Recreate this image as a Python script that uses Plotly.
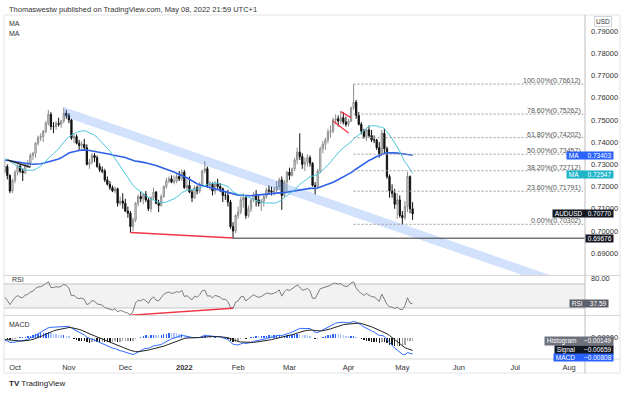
import numpy as np
import pandas as pd
import plotly.graph_objects as go

# ---------------- DATA ----------------
# warm-up closes (19 Jul 2021 - 24 Sep 2021), used only for indicator history
warm_start, warm_end = "2021-07-19", "2021-09-24"
warm_close = [0.7347, 0.7341, 0.7350, 0.7376, 0.7358, 0.7367, 0.7354, 0.7392, 0.7377, 0.7340,
              0.7360, 0.7398, 0.7380, 0.7385, 0.7340, 0.7337, 0.7345, 0.7356, 0.7340, 0.7338,
              0.7330, 0.7266, 0.7225, 0.7163, 0.7132, 0.7180, 0.7226, 0.7265, 0.7254, 0.7315,
              0.7300, 0.7314,
              0.7345, 0.7395, 0.7433, 0.7420, 0.7370, 0.7382, 0.7371, 0.7355, 0.7346, 0.7334,
              0.7316, 0.7286, 0.7263, 0.7244, 0.7220, 0.7248, 0.7297, 0.7266]

# visible daily candles (27 Sep 2021 - 6 May 2022, weekdays)
vis_start, vis_end = "2021-09-27", "2022-05-06"
opens = [0.7266, 0.7290, 0.7250, 0.7180,
         0.7228, 0.7265, 0.7292, 0.7270, 0.7262, 0.7298, 0.7306, 0.7340, 0.7350, 0.7395, 0.7420, 0.7425, 0.7448, 0.7485, 0.7525, 0.7470, 0.7470, 0.7485, 0.7480, 0.7495, 0.7530,
         0.7520, 0.7500, 0.7418, 0.7425, 0.7395, 0.7385, 0.7390, 0.7375, 0.7300, 0.7310, 0.7340, 0.7330, 0.7290, 0.7275, 0.7270, 0.7230, 0.7210, 0.7195, 0.7180, 0.7190, 0.7125, 0.7135,
         0.7125, 0.7090, 0.7080, 0.7020, 0.7050, 0.7125, 0.7155, 0.7145, 0.7165, 0.7140, 0.7100, 0.7150, 0.7175, 0.7125, 0.7115, 0.7155, 0.7200, 0.7225, 0.7235, 0.7220, 0.7225, 0.7245, 0.7235,
         0.7265, 0.7195, 0.7205, 0.7175, 0.7150, 0.7195, 0.7180, 0.7210, 0.7270, 0.7280, 0.7205, 0.7210, 0.7180, 0.7215, 0.7200, 0.7190, 0.7160, 0.7160, 0.7130, 0.7020, 0.7000,
         0.7070, 0.7085, 0.7140, 0.7150, 0.7070, 0.7100, 0.7140, 0.7165, 0.7140, 0.7125, 0.7135, 0.7155, 0.7185, 0.7180, 0.7175, 0.7185, 0.7200, 0.7230, 0.7160, 0.7220,
         0.7265, 0.7250, 0.7280, 0.7320, 0.7355, 0.7335, 0.7300, 0.7310, 0.7330, 0.7305, 0.7205, 0.7200, 0.7270, 0.7370, 0.7390, 0.7410, 0.7445, 0.7450, 0.7500, 0.7505, 0.7495, 0.7510, 0.7490,
         0.7480, 0.7495, 0.7555, 0.7580, 0.7520, 0.7480, 0.7450, 0.7425, 0.7455, 0.7430, 0.7410, 0.7410, 0.7375, 0.7345, 0.7440, 0.7370, 0.7245, 0.7180, 0.7170, 0.7120, 0.7140,
         0.7070, 0.7060, 0.7110, 0.7245, 0.7100]
highs = [0.7318, 0.7300, 0.7255, 0.7235,
         0.7275, 0.7300, 0.7300, 0.7280, 0.7305, 0.7320, 0.7350, 0.7355, 0.7400, 0.7430, 0.7440, 0.7455, 0.7495, 0.7545, 0.7535, 0.7490, 0.7495, 0.7510, 0.7500, 0.7556, 0.7545,
         0.7530, 0.7505, 0.7440, 0.7435, 0.7410, 0.7405, 0.7415, 0.7390, 0.7325, 0.7350, 0.7350, 0.7340, 0.7305, 0.7290, 0.7280, 0.7245, 0.7225, 0.7205, 0.7200, 0.7195, 0.7155, 0.7170,
         0.7145, 0.7110, 0.7090, 0.7060, 0.7130, 0.7165, 0.7180, 0.7170, 0.7180, 0.7150, 0.7155, 0.7195, 0.7180, 0.7140, 0.7165, 0.7205, 0.7240, 0.7245, 0.7250, 0.7250, 0.7260, 0.7270, 0.7277,
         0.7275, 0.7235, 0.7245, 0.7185, 0.7205, 0.7205, 0.7220, 0.7275, 0.7314, 0.7290, 0.7225, 0.7220, 0.7225, 0.7235, 0.7215, 0.7195, 0.7175, 0.7185, 0.7140, 0.7040, 0.7075,
         0.7110, 0.7155, 0.7170, 0.7160, 0.7115, 0.7145, 0.7175, 0.7185, 0.7160, 0.7145, 0.7165, 0.7195, 0.7205, 0.7200, 0.7200, 0.7225, 0.7240, 0.7245, 0.7230, 0.7270,
         0.7285, 0.7285, 0.7330, 0.7375, 0.7440, 0.7350, 0.7330, 0.7345, 0.7340, 0.7310, 0.7220, 0.7280, 0.7380, 0.7405, 0.7420, 0.7460, 0.7475, 0.7510, 0.7525, 0.7520, 0.7540, 0.7535, 0.7515,
         0.7505, 0.7560, 0.7661, 0.7590, 0.7535, 0.7490, 0.7460, 0.7465, 0.7475, 0.7455, 0.7430, 0.7415, 0.7400, 0.7455, 0.7460, 0.7380, 0.7255, 0.7210, 0.7190, 0.7170, 0.7160,
         0.7090, 0.7135, 0.7266, 0.7250, 0.7130]
lows = [0.7260, 0.7232, 0.7170, 0.7170,
        0.7215, 0.7250, 0.7260, 0.7225, 0.7255, 0.7285, 0.7290, 0.7320, 0.7330, 0.7385, 0.7405, 0.7400, 0.7440, 0.7475, 0.7455, 0.7440, 0.7455, 0.7470, 0.7465, 0.7485, 0.7505,
        0.7485, 0.7410, 0.7395, 0.7390, 0.7360, 0.7370, 0.7365, 0.7295, 0.7280, 0.7300, 0.7310, 0.7285, 0.7265, 0.7260, 0.7220, 0.7205, 0.7185, 0.7175, 0.7170, 0.7110, 0.7115, 0.7100,
        0.7085, 0.7060, 0.6993, 0.7000, 0.7040, 0.7110, 0.7130, 0.7120, 0.7130, 0.7090, 0.7085, 0.7140, 0.7120, 0.7085, 0.7110, 0.7150, 0.7190, 0.7215, 0.7215, 0.7210, 0.7215, 0.7225, 0.7225,
        0.7190, 0.7185, 0.7170, 0.7130, 0.7145, 0.7165, 0.7170, 0.7205, 0.7260, 0.7195, 0.7185, 0.7160, 0.7165, 0.7190, 0.7175, 0.7130, 0.7140, 0.7110, 0.7010, 0.6968, 0.6990,
        0.7055, 0.7075, 0.7105, 0.7055, 0.7060, 0.7085, 0.7130, 0.7110, 0.7110, 0.7090, 0.7110, 0.7145, 0.7165, 0.7160, 0.7160, 0.7170, 0.7185, 0.7095, 0.7150, 0.7180,
        0.7230, 0.7245, 0.7270, 0.7300, 0.7320, 0.7280, 0.7270, 0.7290, 0.7290, 0.7200, 0.7165, 0.7190, 0.7260, 0.7350, 0.7365, 0.7395, 0.7420, 0.7440, 0.7480, 0.7470, 0.7480, 0.7480, 0.7470,
        0.7470, 0.7490, 0.7545, 0.7505, 0.7475, 0.7435, 0.7415, 0.7405, 0.7420, 0.7400, 0.7395, 0.7365, 0.7330, 0.7340, 0.7350, 0.7235, 0.7150, 0.7150, 0.7100, 0.7055, 0.7060,
        0.7030, 0.7050, 0.7085, 0.7080, 0.7050]
closes = [0.7290, 0.7250, 0.7180, 0.7228,
          0.7265, 0.7292, 0.7270, 0.7262, 0.7298, 0.7306, 0.7340, 0.7350, 0.7395, 0.7420, 0.7425, 0.7448, 0.7485, 0.7525, 0.7470, 0.7470, 0.7485, 0.7480, 0.7495, 0.7530, 0.7520,
          0.7500, 0.7418, 0.7425, 0.7395, 0.7385, 0.7390, 0.7375, 0.7300, 0.7310, 0.7340, 0.7330, 0.7290, 0.7275, 0.7270, 0.7230, 0.7210, 0.7195, 0.7180, 0.7190, 0.7125, 0.7135, 0.7125,
          0.7090, 0.7080, 0.7020, 0.7050, 0.7125, 0.7155, 0.7145, 0.7165, 0.7140, 0.7100, 0.7150, 0.7175, 0.7125, 0.7115, 0.7155, 0.7200, 0.7225, 0.7235, 0.7220, 0.7225, 0.7245, 0.7235, 0.7265,
          0.7195, 0.7205, 0.7175, 0.7150, 0.7195, 0.7180, 0.7210, 0.7270, 0.7280, 0.7205, 0.7210, 0.7180, 0.7215, 0.7200, 0.7190, 0.7160, 0.7160, 0.7130, 0.7020, 0.7000, 0.7070,
          0.7085, 0.7140, 0.7150, 0.7070, 0.7100, 0.7140, 0.7165, 0.7140, 0.7125, 0.7135, 0.7155, 0.7185, 0.7180, 0.7175, 0.7185, 0.7200, 0.7230, 0.7160, 0.7220, 0.7265,
          0.7250, 0.7280, 0.7320, 0.7355, 0.7335, 0.7300, 0.7310, 0.7330, 0.7305, 0.7205, 0.7200, 0.7270, 0.7370, 0.7390, 0.7410, 0.7445, 0.7450, 0.7500, 0.7505, 0.7495, 0.7510, 0.7490, 0.7480,
          0.7495, 0.7555, 0.7580, 0.7520, 0.7480, 0.7450, 0.7425, 0.7455, 0.7430, 0.7410, 0.7410, 0.7375, 0.7345, 0.7440, 0.7370, 0.7245, 0.7180, 0.7170, 0.7120, 0.7140, 0.7070,
          0.7060, 0.7110, 0.7245, 0.7100, 0.7077]

# Fibonacci retracement (anchored at the 5 Apr high)
fib_start = "2022-04-05"
fib_pct = ["100.00%", "78.60%", "61.80%", "50.00%", "38.20%", "23.60%", "0.00%"]
fib_levels = [0.76612, 0.75262, 0.74202, 0.73457, 0.72712, 0.71791, 0.70302]

# descending channel band (top edge & bottom edge)
band_dates = ["2021-10-28", "2022-07-29"]
band_top = [0.7558, 0.6776]
band_bot = [0.7515, 0.6733]

# support line
support_date, support_level = "2022-01-28", 0.69676
# divergence anchors
div_dates = ["2021-12-03", "2022-01-28"]
# small trendlines
black_line_dates, black_line_px = ["2021-09-28", "2021-10-11"], [0.7320, 0.7287]
wedge_up_dates, wedge_up_px = ["2022-03-29", "2022-04-04"], [0.7537, 0.7510]
wedge_lo_dates, wedge_lo_px = ["2022-03-24", "2022-04-01"], [0.7495, 0.7441]

# last values shown in the axis labels
last_ma50, last_ma20, last_close = 0.73403, 0.72547, 0.70770
last_rsi = 37.59
last_hist, last_signal, last_macd = -0.00149, -0.00659, -0.00808

price_ticks = [0.69, 0.70, 0.71, 0.72, 0.73, 0.74, 0.75, 0.76, 0.77, 0.78, 0.79]
month_ticks = ["2021-10-01", "2021-11-01", "2021-12-01", "2022-01-03", "2022-02-01", "2022-03-01",
               "2022-04-01", "2022-05-02", "2022-06-01", "2022-07-01", "2022-08-01"]
month_text = ["Oct", "Nov", "Dec", "<b>2022</b>", "Feb", "Mar", "Apr", "May", "Jun", "Jul", "Aug"]

# ---------------- INDICATORS ----------------
vis_dates = pd.bdate_range(vis_start, vis_end)
warm_dates = pd.bdate_range(warm_start, warm_end)
assert len(vis_dates) == len(closes) == len(opens) == len(highs) == len(lows)
assert len(warm_dates) == len(warm_close)
all_close = pd.Series(warm_close + closes, index=warm_dates.append(vis_dates))

ma20 = all_close.rolling(20).mean().loc[vis_dates]
ma50 = all_close.rolling(50).mean().loc[vis_dates]
d = all_close.diff()
up = d.clip(lower=0).ewm(alpha=1 / 14, adjust=False).mean()
dn = (-d.clip(upper=0)).ewm(alpha=1 / 14, adjust=False).mean()
rsi = (100 - 100 / (1 + up / dn)).loc[vis_dates]
ema12 = all_close.ewm(span=12, adjust=False).mean()
ema26 = all_close.ewm(span=26, adjust=False).mean()
macd_all = ema12 - ema26
sig_all = macd_all.ewm(span=9, adjust=False).mean()
hist_all = macd_all - sig_all
macd = macd_all.loc[vis_dates]
sig = sig_all.loc[vis_dates]
hist = hist_all.loc[vis_dates]
prev = hist_all.shift(1).loc[vis_dates]
hist_col = []
for h, p in zip(hist.values, prev.values):
    if h >= 0:
        hist_col.append("#2962ff" if h >= p else "#a9c4fb")
    else:
        hist_col.append("#1a1a1a" if h <= p else "#a3a3a3")

# ---------------- FIGURE ----------------
W, H = 624, 393
def px_x(v): return v / W
def px_y(v): return 1 - v / H

XD = [px_x(4), px_x(585)]
fig = go.Figure()

# channel band
fig.add_trace(go.Scatter(
    x=[band_dates[0], band_dates[1], band_dates[1], band_dates[0], band_dates[0]],
    y=[band_top[0], band_top[1], band_bot[1], band_bot[0], band_top[0]],
    fill="toself", fillcolor="rgba(66,133,244,0.24)", line=dict(width=0),
    mode="lines", hoverinfo="skip", xaxis="x", yaxis="y"))

fig.add_trace(go.Candlestick(
    x=vis_dates, open=opens, high=highs, low=lows, close=closes,
    increasing=dict(line=dict(color="#8c8c8c", width=1), fillcolor="#f0f0f0"),
    decreasing=dict(line=dict(color="#111111", width=1), fillcolor="#111111"),
    whiskerwidth=0, xaxis="x", yaxis="y"))

fig.add_trace(go.Scatter(x=vis_dates, y=ma50, mode="lines", line=dict(color="#2f62e8", width=1.6),
                         xaxis="x", yaxis="y", hoverinfo="skip"))
fig.add_trace(go.Scatter(x=vis_dates, y=ma20, mode="lines", line=dict(color="#4cc6dc", width=1),
                         xaxis="x", yaxis="y", hoverinfo="skip"))

# RSI
fig.add_trace(go.Scatter(x=vis_dates, y=rsi, mode="lines", line=dict(color="#7b7b7b", width=1),
                         xaxis="x", yaxis="y2", hoverinfo="skip"))
# MACD
fig.add_trace(go.Bar(x=vis_dates, y=hist, marker=dict(color=hist_col, line=dict(width=0)),
                     width=0.55 * 86400000, xaxis="x", yaxis="y3", hoverinfo="skip"))
fig.add_trace(go.Scatter(x=vis_dates, y=macd, mode="lines", line=dict(color="#2f6bff", width=1),
                         xaxis="x", yaxis="y3", hoverinfo="skip"))
fig.add_trace(go.Scatter(x=vis_dates, y=sig, mode="lines", line=dict(color="#222222", width=1),
                         xaxis="x", yaxis="y3", hoverinfo="skip"))

x_end = "2022-08-09 05:00"
shapes = []
# RSI band
shapes.append(dict(type="rect", xref="paper", yref="y2", x0=XD[0], x1=XD[1], y0=30, y1=70,
                   fillcolor="#f2f2f2", line=dict(width=0), layer="below"))
for lv in (30, 70):
    shapes.append(dict(type="line", xref="paper", yref="y2", x0=XD[0], x1=XD[1], y0=lv, y1=lv,
                       line=dict(color="#c4c4c4", width=1), layer="below"))
# fib lines
for lv in fib_levels:
    shapes.append(dict(type="line", xref="x", yref="y", x0=fib_start, x1="2022-08-08 12:00", y0=lv, y1=lv,
                       line=dict(color="#9a9a9a", width=1, dash="2px,2px")))
# support
shapes.append(dict(type="line", xref="x", yref="y", x0=support_date, x1=x_end, y0=support_level, y1=support_level,
                   line=dict(color="#333333", width=1)))
# price divergence
lows_s = pd.Series(lows, index=vis_dates)
shapes.append(dict(type="line", xref="x", yref="y", x0=div_dates[0], x1=div_dates[1],
                   y0=lows_s.loc[div_dates[0]], y1=lows_s.loc[div_dates[1]],
                   line=dict(color="#f23645", width=1.5)))
# rsi divergence
shapes.append(dict(type="line", xref="x", yref="y2", x0=div_dates[0], x1=div_dates[1],
                   y0=rsi.loc[div_dates[0]], y1=rsi.loc[div_dates[1]],
                   line=dict(color="#f23645", width=1.5)))
shapes.append(dict(type="line", xref="x", yref="y", x0=black_line_dates[0], x1=black_line_dates[1],
                   y0=black_line_px[0], y1=black_line_px[1], line=dict(color="#222222", width=1.5)))
for dd, pp in ((wedge_up_dates, wedge_up_px), (wedge_lo_dates, wedge_lo_px)):
    shapes.append(dict(type="line", xref="x", yref="y", x0=dd[0], x1=dd[1], y0=pp[0], y1=pp[1],
                       line=dict(color="#f23645", width=1.3)))

# frame / separators
G = "#d6d6d6"
shapes.append(dict(type="rect", xref="paper", yref="paper", x0=px_x(4), x1=px_x(620), y0=px_y(373), y1=px_y(15),
                   line=dict(color="#e3e3e3", width=1)))
for yy in (275.5, 315.5, 359):
    shapes.append(dict(type="line", xref="paper", yref="paper", x0=px_x(4), x1=px_x(620), y0=px_y(yy), y1=px_y(yy),
                       line=dict(color=G, width=1)))
shapes.append(dict(type="line", xref="paper", yref="paper", x0=px_x(585), x1=px_x(585), y0=px_y(373), y1=px_y(15),
                   line=dict(color="#c8c8c8", width=1.2)))

ann = []
FONT = "Liberation Sans, Arial, sans-serif"
ann.append(dict(xref="paper", yref="paper", x=px_x(7), y=px_y(9), xanchor="left", yanchor="middle", showarrow=False,
                text="Thomaswestw published on TradingView.com, May 08, 2022 21:59 UTC+1",
                font=dict(size=7.5, color="#333333", family=FONT)))
for yy in (24, 33):
    ann.append(dict(xref="paper", yref="paper", x=px_x(7), y=px_y(yy), xanchor="left", yanchor="middle", showarrow=False,
                    text="MA", font=dict(size=7, color="#333333", family=FONT)))
ann.append(dict(xref="paper", yref="paper", x=px_x(7), y=px_y(383), xanchor="left", yanchor="middle", showarrow=False,
                text="<b>TV</b> TradingView", font=dict(size=8, color="#222222", family=FONT)))
ann.append(dict(xref="paper", yref="paper", x=px_x(603), y=px_y(22), xanchor="center", yanchor="middle", showarrow=False,
                text="USD", font=dict(size=6.5, color="#333333", family=FONT), bordercolor="#d1d4dc",
                borderwidth=1, borderpad=1, bgcolor="white"))
ann.append(dict(xref="paper", yref="y2", x=px_x(10), y=77, xanchor="left", yanchor="middle", showarrow=False,
                text="RSI", font=dict(size=7, color="#333333", family=FONT)))
ann.append(dict(xref="paper", yref="paper", x=px_x(7), y=px_y(324), xanchor="left", yanchor="middle", showarrow=False,
                text="MACD", font=dict(size=7, color="#333333", family=FONT)))
# fib labels (just above each level)
for p, lv in zip(fib_pct, fib_levels):
    ann.append(dict(xref="paper", yref="y", x=px_x(583), y=lv, xanchor="right", yanchor="middle", showarrow=False,
                    text=f"{p}({lv:.5f})", font=dict(size=7, color="#555555", family=FONT), yshift=3))

def box(yref, yv, text, bg, xr=614):
    ann.append(dict(xref="paper", yref=yref, x=px_x(xr), y=yv, xanchor="right", yanchor="middle", showarrow=False,
                    text=text, font=dict(size=6.5, color="white", family=FONT), bgcolor=bg, borderpad=0))

box("y", last_ma50, "&nbsp;MA&nbsp;&nbsp;&nbsp;&nbsp;&nbsp;%.5f&nbsp;" % last_ma50, "#2962ff")
box("y", last_ma20, "&nbsp;MA&nbsp;&nbsp;&nbsp;&nbsp;&nbsp;%.5f&nbsp;" % last_ma20, "#1fb5c9")
box("y", last_close, "&nbsp;AUDUSD&nbsp;&nbsp;&nbsp;%.5f&nbsp;" % last_close, "#131722")
box("y", support_level, "&nbsp;%.5f&nbsp;" % support_level, "#131722")
box("y2", last_rsi, "&nbsp;RSI&nbsp;&nbsp;&nbsp;&nbsp;%.2f&nbsp;" % last_rsi, "#5d606b", xr=609)
# MACD-pane value boxes are stacked by the platform so they do not overlap
box("paper", px_y(340.5), "&nbsp;Histogram&nbsp;&nbsp;&nbsp;&nbsp;−%.5f&nbsp;" % abs(last_hist), "#6f727c")
box("paper", px_y(350), "&nbsp;Signal&nbsp;&nbsp;&nbsp;&nbsp;&nbsp;−%.5f&nbsp;" % abs(last_signal), "#131722")
box("paper", px_y(357), "&nbsp;MACD&nbsp;&nbsp;&nbsp;&nbsp;&nbsp;−%.5f&nbsp;" % abs(last_macd), "#2962ff")

macd_abs = float(np.nanmax(np.abs(np.concatenate([macd.values, sig.values]))))
mr = macd_abs / 0.8

axis_font = dict(size=7.5, color="#333333", family=FONT)
fig.update_layout(
    width=W, height=H, margin=dict(l=0, r=0, t=0, b=0, autoexpand=False),
    paper_bgcolor="white", plot_bgcolor="white", showlegend=False, hovermode=False,
    font=dict(family=FONT),
    xaxis=dict(domain=XD, anchor="y3", type="date", range=["2021-09-24 17:00", x_end],
               rangebreaks=[dict(bounds=["sat", "mon"])], rangeslider=dict(visible=False),
               tickvals=month_ticks, ticktext=month_text, tickfont=axis_font, showgrid=False,
               zeroline=False, showline=False, ticks="", ticklabelstandoff=2, automargin=False),
    yaxis=dict(domain=[px_y(275), px_y(15)], anchor="x", side="right", range=[0.68020, 0.79721],
               tickvals=price_ticks, tickformat=".5f", tickfont=axis_font, showgrid=False, zeroline=False,
               ticks="", ticklabelstandoff=5, automargin=False),
    yaxis2=dict(domain=[px_y(315), px_y(276)], anchor="x", side="right", range=[18.3, 83.3],
                tickvals=[80], ticktext=["80.00"], tickfont=axis_font, showgrid=False, zeroline=False,
                ticks="", ticklabelstandoff=5, automargin=False),
    yaxis3=dict(domain=[px_y(359), px_y(316)], anchor="x", side="right", range=[-mr, mr],
                tickvals=[0], ticktext=["0.00000"], tickfont=axis_font, showgrid=False, zeroline=False,
                ticks="", ticklabelstandoff=5, automargin=False),
    shapes=shapes, annotations=ann, bargap=0,
)

fig.write_html("out.html", config={"displayModeBar": False, "staticPlot": True},
               post_script="document.body.style.margin='0';document.body.style.overflow='hidden';")
